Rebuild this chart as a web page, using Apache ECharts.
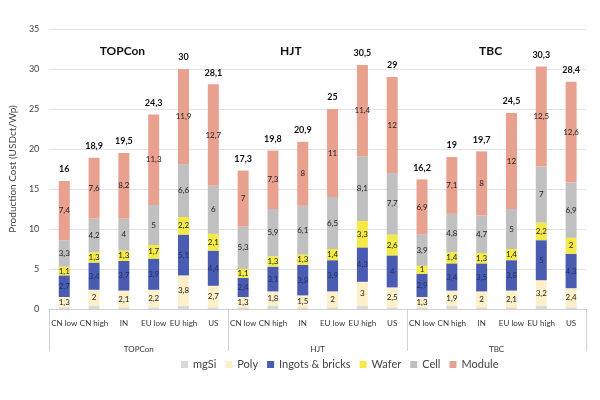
<!DOCTYPE html>
<html><head><meta charset="utf-8">
<script src="https://cdn.jsdelivr.net/npm/echarts@6/dist/echarts.min.js"></script>
<style>html,body{margin:0;padding:0;background:#fff}#c{width:600px;height:400px}</style>
</head><body><div id="c"></div>
<script>
const categories = ['CN low','CN high','IN','EU low','EU high','US','CN low','CN high','IN','EU low','EU high','US','CN low','CN high','IN','EU low','EU high','US'];
const groups = ['TOPCon','HJT','TBC'];
const mgSi   = [0.2,0.4,0.2,0.2,0.4,0.2, 0.2,0.4,0.2,0.2,0.4,0.2, 0.2,0.4,0.2,0.2,0.4,0.2];
const poly   = [1.3,2,2.1,2.2,3.8,2.7, 1.3,1.8,1.5,2,3,2.5, 1.3,1.9,2,2.1,3.2,2.4];
const ingots = [2.7,3.4,3.7,3.9,5.1,4.4, 2.4,3.1,3.8,3.9,4.3,4, 2.9,3.4,3.5,3.8,5,4.3];
const wafer  = [1.1,1.3,1.3,1.7,2.2,2.1, 1.1,1.3,1.3,1.4,3.3,2.6, 1,1.4,1.3,1.4,2.2,2];
const cell   = [3.3,4.2,4,5,6.6,6, 5.3,5.9,6.1,6.5,8.1,7.7, 3.9,4.8,4.7,5,7,6.9];
const module_ = [7.4,7.6,8.2,11.3,11.9,12.7, 7,7.3,8,11,11.4,12, 6.9,7.1,8,12,12.5,12.6];
const totals = [16,18.9,19.5,24.3,30,28.1, 17.3,19.8,20.9,25,30.5,29, 16.2,19,19.7,24.5,30.3,28.4];
const yTicks = {min:0, max:35, interval:5};

const FONT = 'Lato';
const fmt = v => String(v).replace('.', ',');
function seg(name, data, color, showLabel, labelColor){
  return {name, type:'bar', stack:'s', data, barWidth:11,
    itemStyle:{color},
    label:{show:showLabel, position:'inside', fontFamily:FONT, fontSize:8, color:labelColor||'#222',
      formatter:p=>fmt(p.value)}};
}
const chart = echarts.init(document.getElementById('c'), null, {renderer:'canvas'});
chart.setOption({
  animation:false,
  textStyle:{fontFamily:FONT},
  grid:{left:46, right:14, top:29, bottom:91},
  legend:{bottom:25, left:176, icon:'rect', itemWidth:7, itemHeight:7, itemGap:9,
    textStyle:{fontFamily:FONT, fontSize:11, color:'#444'},
    data:['mgSi','Poly','Ingots & bricks','Wafer','Cell','Module']},
  xAxis:[
    {type:'category', data:categories, position:'bottom',
     axisLine:{lineStyle:{color:'#d0d0d0'}},
     axisTick:{show:true, length:42, interval:(i)=> i%6===0, lineStyle:{color:'#d0d0d0'}},
     axisLabel:{interval:0, fontFamily:FONT, fontSize:8, color:'#333', margin:10}},
    {type:'category', data:groups, position:'bottom', offset:28,
     axisLine:{show:false}, axisTick:{show:false},
     axisLabel:{fontFamily:FONT, fontSize:8, color:'#333'}}
  ],
  yAxis:{type:'value', min:yTicks.min, max:yTicks.max, interval:yTicks.interval,
    name:'Production Cost (USDct/Wp)', nameLocation:'middle', nameGap:28,
    nameTextStyle:{fontFamily:FONT, fontSize:10, color:'#444'},
    axisLabel:{fontFamily:FONT, fontSize:9, color:'#444', margin:10},
    splitLine:{lineStyle:{color:'#e2e2e2'}}, axisLine:{show:false}, axisTick:{show:false}},
  series:[
    seg('mgSi', mgSi, '#d9d9d9', false),
    seg('Poly', poly, '#fdf0c9', true),
    seg('Ingots & bricks', ingots, '#4a5bb2', true, '#22305e'),
    seg('Wafer', wafer, '#f3ea48', true),
    seg('Cell', cell, '#c0c0c0', true),
    seg('Module', module_, '#e8a08f', true),
    {name:'total', type:'bar', stack:'s', data:totals.map(()=>0), barWidth:11,
     label:{show:true, position:'top', distance:7, fontFamily:FONT, fontSize:9, fontWeight:'bold', color:'#111',
       formatter:p=>fmt(totals[p.dataIndex])}}
  ]
});
// group titles positioned in data space
const titlePos = [[1.95,32.2],[7.6,32.2],[14.3,32.2]];
const gfx = groups.map((g,i)=>{
  const x0 = chart.convertToPixel({xAxisIndex:0}, Math.floor(titlePos[i][0]));
  const x1 = chart.convertToPixel({xAxisIndex:0}, Math.floor(titlePos[i][0])+1);
  const frac = titlePos[i][0]-Math.floor(titlePos[i][0]);
  const px = x0 + (x1-x0)*frac;
  const py = chart.convertToPixel({yAxisIndex:0}, titlePos[i][1]);
  return {type:'text', x:px, y:py, style:{text:g, fontFamily:FONT, fontSize:12, fontWeight:'bold', fill:'#111', align:'center', verticalAlign:'middle'}};
});
chart.setOption({graphic:gfx});
</script></body></html>
